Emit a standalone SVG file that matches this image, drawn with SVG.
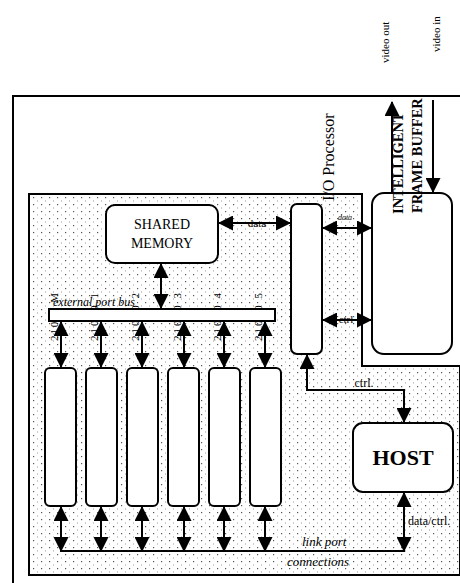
<svg xmlns="http://www.w3.org/2000/svg" width="460" height="583" viewBox="0 0 460 583">
<style>
.box{fill:#fff;stroke:#000;stroke-width:2}
.ln{fill:none;stroke:#000;stroke-width:2}
.frame{fill:none;stroke:#000;stroke-width:2}
.t{font-family:"Liberation Serif",serif;fill:#000}
.it{font-family:"Liberation Serif",serif;font-style:italic;fill:#000}
.a2{marker-start:url(#ah);marker-end:url(#ah)}
.a1{marker-end:url(#ah)}
</style>
<defs>
<pattern id="dots" width="8" height="7" patternUnits="userSpaceOnUse">
<rect x="1" y="1" width="1.2" height="1.2" fill="#555"/>
<rect x="5" y="4.5" width="1" height="1" fill="#999"/>
</pattern>
<marker id="ah" viewBox="0 0 15 15" refX="14" refY="7.5" markerWidth="15" markerHeight="15" markerUnits="userSpaceOnUse" orient="auto-start-reverse">
<path d="M0,0 L15,7.5 L0,15 z" fill="#000"/>
</marker>
</defs>
<rect width="460" height="583" fill="#fff"/>
<g id="frame">
<path class="frame" d="M13,583 V96 H460"/>
<path d="M29,194 H362 V366 H460 V575 H29 Z" fill="url(#dots)" stroke="#000" stroke-width="2"/>
</g>
<g id="labels-video">
<text class="t" font-size="11" transform="translate(389,63) rotate(-90)">video out</text>
<text class="t" font-size="11" transform="translate(440,52) rotate(-90)">video in</text>
</g>
<g id="dsp-labels">
<text class="t" font-size="11" textLength="48" lengthAdjust="spacing" transform="translate(58,341) rotate(-90)">21060 M</text>
<text class="t" font-size="11" textLength="48" lengthAdjust="spacing" transform="translate(98,341) rotate(-90)">21060 1</text>
<text class="t" font-size="11" textLength="48" lengthAdjust="spacing" transform="translate(139,341) rotate(-90)">21060 2</text>
<text class="t" font-size="11" textLength="48" lengthAdjust="spacing" transform="translate(181,341) rotate(-90)">21060 3</text>
<text class="t" font-size="11" textLength="48" lengthAdjust="spacing" transform="translate(221,341) rotate(-90)">21060 4</text>
<text class="t" font-size="11" textLength="48" lengthAdjust="spacing" transform="translate(262,341) rotate(-90)">21060 5</text>
</g>
<g id="connectors">
<line class="ln a2" x1="219" y1="223" x2="290" y2="223"/>
<line class="ln a2" x1="323" y1="228" x2="371" y2="228"/>
<line class="ln a2" x1="323" y1="320" x2="371" y2="320"/>
<line class="ln a1" x1="392" y1="192" x2="392" y2="102"/>
<line class="ln a1" x1="433" y1="100" x2="433" y2="192"/>
<line class="ln a2" x1="161" y1="264" x2="161" y2="308"/>
<line class="ln a2" x1="61" y1="322" x2="61" y2="367"/>
<line class="ln a2" x1="101" y1="322" x2="101" y2="367"/>
<line class="ln a2" x1="142" y1="322" x2="142" y2="367"/>
<line class="ln a2" x1="184" y1="322" x2="184" y2="367"/>
<line class="ln a2" x1="224" y1="322" x2="224" y2="367"/>
<line class="ln a2" x1="265" y1="322" x2="265" y2="367"/>
<line class="ln a2" x1="61" y1="507" x2="61" y2="551"/>
<line class="ln a2" x1="101" y1="507" x2="101" y2="551"/>
<line class="ln a2" x1="142" y1="507" x2="142" y2="551"/>
<line class="ln a2" x1="184" y1="507" x2="184" y2="551"/>
<line class="ln a2" x1="224" y1="507" x2="224" y2="551"/>
<line class="ln a2" x1="265" y1="507" x2="265" y2="551"/>
<line class="ln a2" x1="404" y1="493" x2="404" y2="551"/>
<line class="ln" x1="60" y1="551" x2="405" y2="551"/>
<path class="ln" d="M307,355 V390 H404 V422" marker-start="url(#ah)" marker-end="url(#ah)"/>
</g>
<g id="frame-buffer">
<rect class="box" x="372" y="193" width="80" height="161" rx="12"/>
<text class="t" font-size="14.5" font-weight="bold" transform="translate(403,214) rotate(-90)">INTELLIGENT</text>
<text class="t" font-size="14.5" font-weight="bold" transform="translate(422,213) rotate(-90)">FRAME BUFFER</text>
</g>
<g id="io-processor">
<rect class="box" x="291" y="204" width="31" height="150" rx="6"/>
<text class="t" font-size="16" transform="translate(334,201) rotate(-90)">I/O Processor</text>
</g>
<g id="shared-memory">
<rect class="box" x="106" y="205" width="112" height="58" rx="9"/>
<text class="t" font-size="14" text-anchor="middle" x="162" y="229">SHARED</text>
<text class="t" font-size="14" text-anchor="middle" x="162" y="248">MEMORY</text>
</g>
<g id="bus">
<rect class="box" x="49" y="309" width="226" height="12"/>
<text class="it" font-size="12" x="53" y="306">external port bus</text>
<line class="ln" x1="161" y1="294" x2="161" y2="308"/>
</g>
<g id="dsp1"><rect class="box" x="45" y="368" width="31" height="138" rx="5"/></g>
<g id="dsp2"><rect class="box" x="86" y="368" width="31" height="138" rx="5"/></g>
<g id="dsp3"><rect class="box" x="127" y="368" width="31" height="138" rx="5"/></g>
<g id="dsp4"><rect class="box" x="168" y="368" width="31" height="138" rx="5"/></g>
<g id="dsp5"><rect class="box" x="209" y="368" width="31" height="138" rx="5"/></g>
<g id="dsp6"><rect class="box" x="250" y="368" width="31" height="138" rx="5"/></g>
<g id="host">
<rect class="box" x="353" y="423" width="100" height="69" rx="10"/>
<text class="t" font-size="22" font-weight="bold" text-anchor="middle" x="403" y="465">HOST</text>
</g>
<g id="conn-labels">
<text class="t" font-size="11" text-anchor="middle" x="257" y="227">data</text>
<text class="it" font-size="8" text-anchor="middle" x="345" y="220">data</text>
<text class="t" font-size="11" text-anchor="middle" x="346" y="323">ctrl</text>
<text class="t" font-size="12" text-anchor="middle" x="364" y="387">ctrl.</text>
<text class="t" font-size="12" x="408" y="525">data/ctrl.</text>
<text class="it" font-size="13" x="302" y="546">link port</text>
<text class="it" font-size="13" x="287" y="566">connections</text>
</g>
</svg>
